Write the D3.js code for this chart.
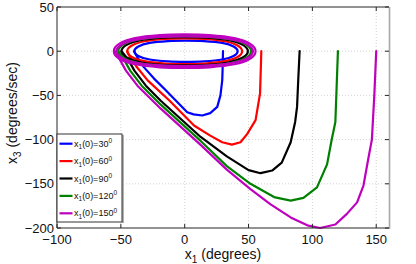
<!DOCTYPE html>
<html>
<head>
<meta charset="utf-8">
<script src="https://cdn.jsdelivr.net/npm/d3@7"></script>
<style>
  body { margin: 0; background: #fff; }
  svg { display: block; font-family: "Liberation Sans", Arial, sans-serif; }
</style>
</head>
<body>
<svg id="chart" width="416" height="264"></svg>
<script>
'use strict';
// initial angles and colours
const labels = ["30", "60", "90", "120", "150"];
const colors = ["#0000ff", "#ff0000", "#000000", "#008000", "#bf00bf"];
const xTicks = [-100, -50, 0, 50, 100, 150];
const yTicks = [-200, -150, -100, -50, 0, 50];

// transient part of each trajectory (x1, x3)
const path30 = [[30,0],[29.7,-20],[29.4,-33],[28,-50],[25.5,-63],[20,-70],[13.8,-72.7],[7,-71.5],[2,-69],[-7,-55.7],[-15,-44],[-24,-31],[-32,-18],[-37,-7],[-39.5,0]];
const path60 = [[60,0],[59.5,-25],[59,-48],[55.5,-78],[49,-93.5],[43.7,-103],[37,-105.7],[29.4,-103],[20,-95.5],[7.3,-84],[-12,-55.7],[-29,-33],[-38,-17],[-43,-6],[-45,0]];
const path90 = [[90,0],[89,-30],[88,-63],[86.5,-80],[83,-103],[76,-126],[68.5,-135],[59.4,-138],[50,-134.5],[33,-119],[12.5,-97],[-18.75,-56],[-30.4,-39],[-39.4,-22],[-44.4,-9],[-49.5,0]];
const path120 = [[120,0],[119,-40],[118,-80],[115,-101],[111.5,-128],[103.6,-154],[93,-166],[83,-169],[70,-165],[51.5,-150],[33,-130],[12.5,-101.5],[-18.75,-60.5],[-33.7,-39],[-42.7,-22],[-47.7,-9],[-52,0]];
const path150 = [[150,0],[148.5,-50],[146.6,-100],[144,-120],[140,-152],[135,-171],[127,-184],[118,-196],[106,-200],[96,-197],[83,-188],[67,-173],[51.5,-156],[33,-134],[12.5,-106],[-18.75,-65],[-37,-39],[-46,-22],[-51,-9],[-54.5,0]];

// limit cycle loops
const loop30 = [[41.5,0],[38.3,5.4],[29.4,9.4],[15.2,11.5],[1,12],[-13.2,11.5],[-27.4,9.4],[-36.3,5.4],[-39.5,0],[-36.3,-5.4],[-27.4,-9.4],[-13.2,-11.5],[1,-12],[15.2,-11.5],[29.4,-9.4],[38.3,-5.4]];
const loop60 = [[45,0],[41.4,6.5],[31.5,11.3],[15.8,13.9],[0,14.5],[-15.8,13.9],[-31.5,11.3],[-41.4,6.5],[-45,0],[-41.4,-6.5],[-31.5,-11.3],[-15.8,-13.9],[0,-14.5],[15.8,-13.9],[31.5,-11.3],[41.4,-6.5]];
const loop90 = [[49.5,0],[45.5,7.2],[34.7,12.5],[17.3,15.4],[0,16],[-17.3,15.4],[-34.7,12.5],[-45.5,7.2],[-49.5,0],[-45.5,-7.2],[-34.7,-12.5],[-17.3,-15.4],[0,-16],[17.3,-15.4],[34.7,-12.5],[45.5,-7.2]];
const loop120 = [[52,0],[47.8,7.7],[36.4,13.3],[18.2,16.3],[0,17],[-18.2,16.3],[-36.4,13.3],[-47.8,7.7],[-52,0],[-47.8,-7.7],[-36.4,-13.3],[-18.2,-16.3],[0,-17],[18.2,-16.3],[36.4,-13.3],[47.8,-7.7]];
const loop150a = [[55.5,0],[51.1,8.6],[38.9,14.8],[19.4,18.2],[0,19],[-19.4,18.2],[-38.9,14.8],[-51.1,8.6],[-55.5,0],[-51.1,-8.6],[-38.9,-14.8],[-19.4,-18.2],[0,-19],[19.4,-18.2],[38.9,-14.8],[51.1,-8.6]];
const loop150b = [[53.5,0],[49.2,7.6],[37.5,13.1],[18.7,16.1],[0,16.8],[-18.7,16.1],[-37.5,13.1],[-49.2,7.6],[-53.5,0],[-49.2,-7.6],[-37.5,-13.1],[-18.7,-16.1],[0,-16.8],[18.7,-16.1],[37.5,-13.1],[49.2,-7.6]];

const paths = [path30, path60, path90, path120, path150];
const loops = [[loop30], [loop60], [loop90], [loop120], [loop150a, loop150b]];

let svg = d3.select("#chart"),
    margin = {top: 7, right: 27, bottom: 36, left: 57},
    width = +svg.attr("width"),
    height = +svg.attr("height");

let x = d3.scaleLinear().domain([-100, 160]).range([margin.left, width - margin.right]);
let y = d3.scaleLinear().domain([-200, 50]).range([height - margin.bottom, margin.top]);
let x0 = x.range()[0], x1 = x.range()[1], y0 = y.range()[1], y1 = y.range()[0];

// grid
let grid = svg.append("g").attr("stroke", "#c8c8c8").attr("stroke-dasharray", "1,2").attr("stroke-width", 0.8);
grid.selectAll(".gx").data(xTicks.filter(d => d > -100)).enter().append("line")
    .attr("x1", d => x(d)).attr("x2", d => x(d)).attr("y1", y0).attr("y2", y1);
grid.selectAll(".gy").data(yTicks.filter(d => d > -200 && d < 50)).enter().append("line")
    .attr("y1", d => y(d)).attr("y2", d => y(d)).attr("x1", x0).attr("x2", x1);

// trajectories
let line = d3.line().x(d => x(d[0])).y(d => y(d[1]));
let loopLine = d3.line().x(d => x(d[0])).y(d => y(d[1])).curve(d3.curveCardinalClosed);

let g = svg.append("g").attr("fill", "none").attr("stroke-width", 2.2)
    .attr("stroke-linejoin", "round").attr("stroke-linecap", "round");
paths.forEach((p, i) => {
    loops[i].forEach(l => {
        g.append("path").attr("stroke", colors[i]).attr("d", loopLine(l));
    });
    g.append("path").attr("stroke", colors[i]).attr("d", line(p));
});

// axes box
let box = svg.append("g").attr("fill", "none");
box.append("path").attr("stroke", "#262626").attr("stroke-width", 1)
    .attr("d", `M${x1},${y0}H${x0}V${y1}H${x1}`);
box.append("line").attr("stroke", "#a8a8a8").attr("stroke-width", 1.6)
    .attr("x1", x1 + 0.5).attr("x2", x1 + 0.5).attr("y1", y0).attr("y2", y1 + 1);

// tick marks (inside)
let tk = svg.append("g").attr("stroke", "#262626").attr("stroke-width", 1);
xTicks.forEach(d => {
    tk.append("line").attr("x1", x(d)).attr("x2", x(d)).attr("y1", y1).attr("y2", y1 - 4);
    tk.append("line").attr("x1", x(d)).attr("x2", x(d)).attr("y1", y0).attr("y2", y0 + 4);
});
yTicks.forEach(d => {
    tk.append("line").attr("y1", y(d)).attr("y2", y(d)).attr("x1", x0).attr("x2", x0 + 4);
    tk.append("line").attr("y1", y(d)).attr("y2", y(d)).attr("x1", x1).attr("x2", x1 - 4);
});

// tick labels
let fmt = d => (d < 0 ? "\u2212" + Math.abs(d) : "" + d);
svg.append("g").selectAll("text").data(xTicks).enter().append("text")
    .attr("x", d => x(d)).attr("y", y1 + 15.5)
    .attr("text-anchor", "middle").attr("font-size", 13).attr("fill", "#111")
    .text(fmt);
svg.append("g").selectAll("text").data(yTicks).enter().append("text")
    .attr("x", x0 - 3).attr("y", d => y(d) + 4.5)
    .attr("text-anchor", "end").attr("font-size", 13).attr("fill", "#111")
    .text(fmt);

// axis titles
let xt = svg.append("text").attr("x", (x0 + x1) / 2).attr("y", 259)
    .attr("text-anchor", "middle").attr("font-size", 14).attr("fill", "#111");
xt.append("tspan").text("x");
xt.append("tspan").attr("dy", 4).attr("font-size", 10).text("1");
xt.append("tspan").attr("dy", -4).text(" (degrees)");

let yt = svg.append("text").attr("transform", "translate(17,113) rotate(-90)")
    .attr("text-anchor", "middle").attr("font-size", 14).attr("fill", "#111");
yt.append("tspan").text("x");
yt.append("tspan").attr("dy", 4).attr("font-size", 10).text("3");
yt.append("tspan").attr("dy", -4).text(" (degrees/sec)");

// legend
let lg = svg.append("g").attr("transform", "translate(57,134)");
lg.append("line").attr("x1", 66).attr("x2", 66).attr("y1", 1).attr("y2", 89)
    .attr("stroke", "#b0b0b0").attr("stroke-width", 2);
lg.append("rect").attr("x", 0).attr("y", 0).attr("width", 65).attr("height", 88)
    .attr("fill", "#fff").attr("stroke", "#333").attr("stroke-width", 1);
let ent = lg.selectAll(".ent").data(labels).enter().append("g")
    .attr("transform", (d, i) => `translate(0,${9.7 + i * 17.4})`);
ent.append("line").attr("x1", 2.5).attr("x2", 15.5).attr("y1", 0).attr("y2", 0)
    .attr("stroke", (d, i) => colors[i]).attr("stroke-width", 2.2);
let lt = ent.append("text").attr("x", 17).attr("y", 3).attr("font-size", 9).attr("fill", "#111");
lt.append("tspan").text("x");
lt.append("tspan").attr("dy", 2.5).attr("font-size", 6.5).text("1");
lt.append("tspan").attr("dy", -2.5).text(d => "(0)=" + d);
lt.append("tspan").attr("dy", -3.5).attr("font-size", 6.5).text("0");
</script>
</body>
</html>
